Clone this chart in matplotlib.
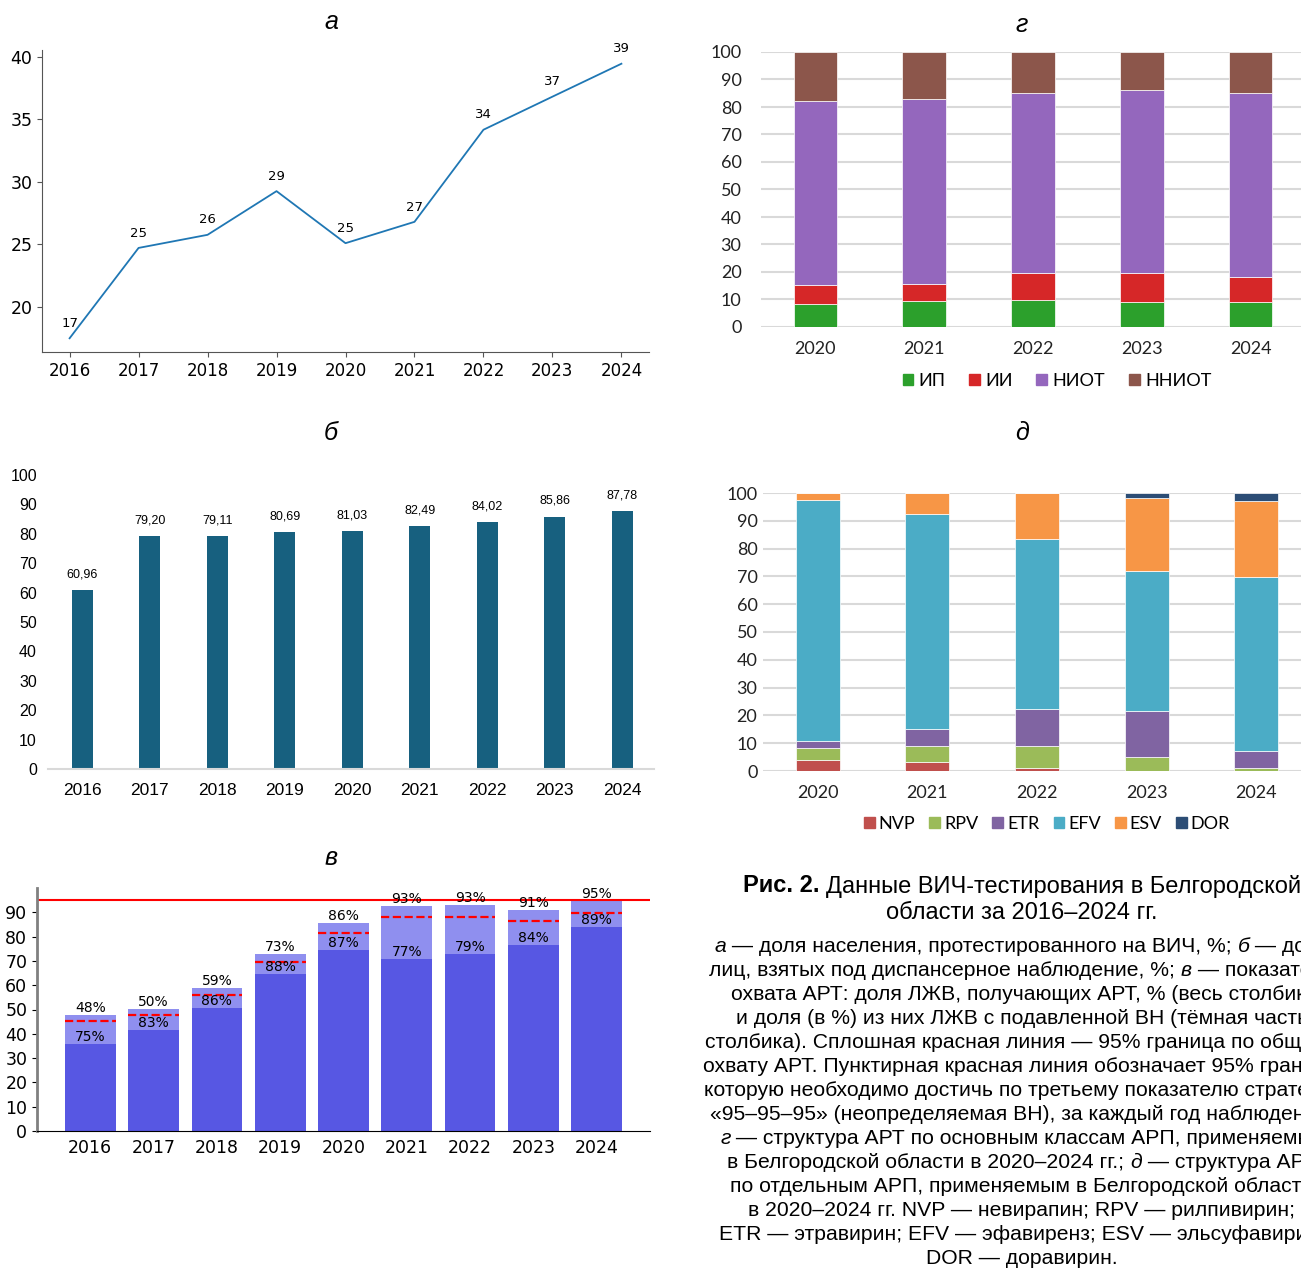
import matplotlib
matplotlib.use('Agg')
import matplotlib.pyplot as plt
import numpy as np
from matplotlib.patches import Patch

W, H = 1301, 1268

# а: share of population tested for HIV, %
years = ['2016', '2017', '2018', '2019', '2020', '2021', '2022', '2023', '2024']
tested = [17.46, 24.7, 25.75, 29.25, 25.08, 26.79, 34.17, 36.82, 39.46]

# б: share under dispensary observation, %
dispensary = [60.96, 79.20, 79.11, 80.69, 81.03, 82.49, 84.02, 85.86, 87.78]

# в: ART coverage (whole bar) and share with suppressed viral load (dark part)
art_coverage = [47.6, 50.4, 59.0, 73.0, 85.8, 92.6, 92.8, 90.8, 94.6]
suppressed = [75.4, 82.7, 85.6, 88.4, 87.0, 76.6, 78.6, 84.3, 88.9]

# г: ART structure by drug class
years_art = ['2020', '2021', '2022', '2023', '2024']
class_names = ['ИП', 'ИИ', 'НИОТ', 'ННИОТ']
cls_ip = [8.5, 9.6, 9.9, 9.1, 9.2]
cls_ii = [6.9, 6.2, 9.7, 10.7, 9.1]
cls_niot = [66.9, 67.0, 65.6, 66.5, 66.9]
cls_nniot = [17.7, 17.2, 14.8, 13.7, 14.8]

# д: NNRTI structure by drug
drug_names = ['NVP', 'RPV', 'ETR', 'EFV', 'ESV', 'DOR']
nvp = [4.1, 3.4, 1.0, 0.0, 0.0]
rpv = [4.3, 5.6, 7.9, 5.0, 1.0]
etr = [2.5, 6.1, 13.3, 16.7, 6.3]
efv = [86.7, 77.5, 61.4, 50.1, 62.4]
esv = [2.4, 7.4, 16.4, 26.3, 27.5]
dor = [0.0, 0.0, 0.0, 1.9, 2.8]

fig = plt.figure(figsize=(W / 100, H / 100), dpi=100)

XL = ['Lato', 'Noto Sans']


def px_axes(left, top, right, bottom):
    return fig.add_axes([left / W, 1 - bottom / H, (right - left) / W, (bottom - top) / H])


def panel_title(x, y, s):
    fig.text(x / W, 1 - y / H, s, fontsize=18, style='italic', ha='center', va='center',
             family='Liberation Sans')


# ---- а ----
ax = px_axes(42, 50, 649, 352)
xa = np.arange(2016, 2025)
ax.plot(xa, tested, color='#1f77b4', lw=1.3)
for x, v in zip(xa, tested):
    ax.annotate(f'{round(v)}', (x, v), xytext=(0, 6), textcoords='offset points',
                ha='center', va='bottom', fontsize=9.5)
ax.set_xticks(xa)
ax.set_xticklabels(years)
ax.tick_params(axis='y', labelsize=12.5, color='#555')
ax.tick_params(axis='x', labelsize=12, color='#555')
for s in ['top', 'right']:
    ax.spines[s].set_visible(False)
for s in ['left', 'bottom']:
    ax.spines[s].set_color('#555')
panel_title(331, 22, 'а')

# ---- б ----
ax = px_axes(48, 475, 654, 769)
xb = np.arange(len(years))
ax.bar(xb, dispensary, width=0.31, color='#17607f')
for x, v in zip(xb, dispensary):
    ax.annotate(f'{v:.2f}'.replace('.', ','), (x, v), xytext=(0, 7), textcoords='offset points',
                ha='center', va='bottom', fontsize=9, family='Liberation Sans')
ax.set_xlim(-0.51, 8.47)
ax.set_ylim(0, 100)
ax.set_yticks(range(0, 101, 10))
ax.set_xticks(xb)
ax.set_xticklabels(years)
for s in ['top', 'right', 'left']:
    ax.spines[s].set_visible(False)
ax.spines['bottom'].set_color('#d9d9d9')
ax.spines['bottom'].set_linewidth(1.5)
ax.tick_params(length=0)
ax.tick_params(axis='y', pad=8)
ax.tick_params(axis='x', pad=10)
for lab in ax.get_xticklabels():
    lab.set_family('Liberation Sans')
    lab.set_fontsize(12.5)
for lab in ax.get_yticklabels():
    lab.set_family('Liberation Sans')
    lab.set_fontsize(11.5)
panel_title(331, 433, 'б')

# ---- в ----
ax = px_axes(37, 888, 650, 1131)
xv = np.arange(len(years))
cov = np.array(art_coverage)
dark = cov * np.array(suppressed) / 100
ax.bar(xv, cov, width=0.8, color='#8f8fef')
ax.bar(xv, dark, width=0.8, color='#5757e3')
ax.hlines(cov * 0.95, xv - 0.4, xv + 0.4, colors='red', linestyles='--', lw=1.6)
ax.axhline(95, color='red', lw=1.5)
for x, c, d, s in zip(xv, cov, dark, suppressed):
    ax.text(x, c, f'{round(c)}%', ha='center', va='bottom', fontsize=10)
    ax.text(x, d, f'{round(s)}%', ha='center', va='bottom', fontsize=10)
ax.set_ylim(0, 100)
ax.set_yticks(range(0, 91, 10))
ax.set_xticks(xv)
ax.set_xticklabels(years)
ax.tick_params(axis='y', labelsize=12.5)
ax.tick_params(axis='x', labelsize=12.5, length=0, pad=6)
for s in ['top', 'right']:
    ax.spines[s].set_visible(False)
ax.spines['left'].set_color('#808080')
ax.spines['left'].set_linewidth(2)
panel_title(331, 858, 'в')


def excel_stack(ax, series, colors, xlabels):
    xs = np.arange(len(xlabels))
    bottom = np.zeros(len(xlabels))
    for vals, col in zip(series, colors):
        ax.bar(xs, vals, bottom=bottom, width=0.4, color=col, edgecolor='white', lw=0.5, zorder=3)
        bottom += np.array(vals)
    ax.set_xlim(-0.5, 4.5)
    ax.set_ylim(0, 100)
    ax.set_yticks(range(0, 101, 10))
    ax.yaxis.grid(True, color='#d9d9d9', lw=1.5, zorder=0)
    ax.set_axisbelow(True)
    for s in ax.spines.values():
        s.set_visible(False)
    ax.set_xticks(xs)
    ax.set_xticklabels(xlabels)
    ax.tick_params(length=0, colors='#222')
    ax.tick_params(axis='x', pad=10)
    for lab in ax.get_xticklabels():
        lab.set_family(XL)
        lab.set_fontsize(13)
    for lab in ax.get_yticklabels():
        lab.set_family(XL)
        lab.set_fontsize(13)


# ---- г ----
ax = px_axes(761, 52, 1305, 327)
col_g = ['#2ca02c', '#d62728', '#9467bd', '#8c564b']
excel_stack(ax, [cls_ip, cls_ii, cls_niot, cls_nniot], col_g, years_art)
ax.tick_params(axis='y', pad=14)
fig.legend([Patch(color=c) for c in col_g], class_names, loc='center',
           bbox_to_anchor=(1057 / W, 1 - 381 / H), ncol=4, frameon=False,
           handlelength=0.6, handleheight=0.6, handletextpad=0.3, columnspacing=1.3,
           prop={'family': XL, 'size': 13})
panel_title(1022, 25, 'г')

# ---- д ----
ax = px_axes(763, 493, 1311, 771)
col_d = ['#c0504d', '#9bbb59', '#8064a2', '#4bacc6', '#f79646', '#2c4d75']
excel_stack(ax, [nvp, rpv, etr, efv, esv, dor], col_d, years_art)
ax.tick_params(axis='y', pad=4)
fig.legend([Patch(color=c) for c in col_d], drug_names, loc='center',
           bbox_to_anchor=(1047 / W, 1 - 824 / H), ncol=6, frameon=False,
           handlelength=0.6, handleheight=0.6, handletextpad=0.2, columnspacing=0.8,
           prop={'family': XL, 'size': 13})
panel_title(1022, 433, 'д')

# ---- caption ----
renderer = fig.canvas.get_renderer()


def line(y, runs, size=15, xc=1022):
    texts = []
    for s, style, weight in runs:
        t = fig.text(0, 1 - y / H, s, fontsize=size, style=style, weight=weight,
                     family='Liberation Sans', va='center', ha='left')
        texts.append(t)
    widths = [t.get_window_extent(renderer).width for t in texts]
    x = xc - sum(widths) / 2
    for t, w in zip(texts, widths):
        t.set_x(x / W)
        x += w


N, I, B = 'normal', 'italic', 'bold'
line(886, [('Рис. 2. ', N, B), ('Данные ВИЧ-тестирования в Белгородской', N, N)], size=17)
line(913, [('области за 2016–2024 гг.', N, N)], size=17)

caption = [
    [('а', I, N), (' — доля населения, протестированного на ВИЧ, %; ', N, N), ('б', I, N), (' — доля', N, N)],
    [('лиц, взятых под диспансерное наблюдение, %; ', N, N), ('в', I, N), (' — показатели', N, N)],
    [('охвата АРТ: доля ЛЖВ, получающих АРТ, % (весь столбик)', N, N)],
    [('и доля (в %) из них ЛЖВ с подавленной ВН (тёмная часть', N, N)],
    [('столбика). Сплошная красная линия — 95% граница по общему', N, N)],
    [('охвату АРТ. Пунктирная красная линия обозначает 95% границу,', N, N)],
    [('которую необходимо достичь по третьему показателю стратегии', N, N)],
    [('«95–95–95» (неопределяемая ВН), за каждый год наблюдения;', N, N)],
    [('г', I, N), (' — структура АРТ по основным классам АРП, применяемых', N, N)],
    [('в Белгородской области в 2020–2024 гг.; ', N, N), ('д', I, N), (' — структура АРТ', N, N)],
    [('по отдельным АРП, применяемым в Белгородской области', N, N)],
    [('в 2020–2024 гг. NVP — невирапин; RPV — рилпивирин;', N, N)],
    [('ETR — этравирин; EFV — эфавиренз; ESV — эльсуфавирин;', N, N)],
    [('DOR — доравирин.', N, N)],
]
for i, runs in enumerate(caption):
    line(946 + 24 * i, runs, size=15.2)

fig.savefig('out.png', dpi=100)
